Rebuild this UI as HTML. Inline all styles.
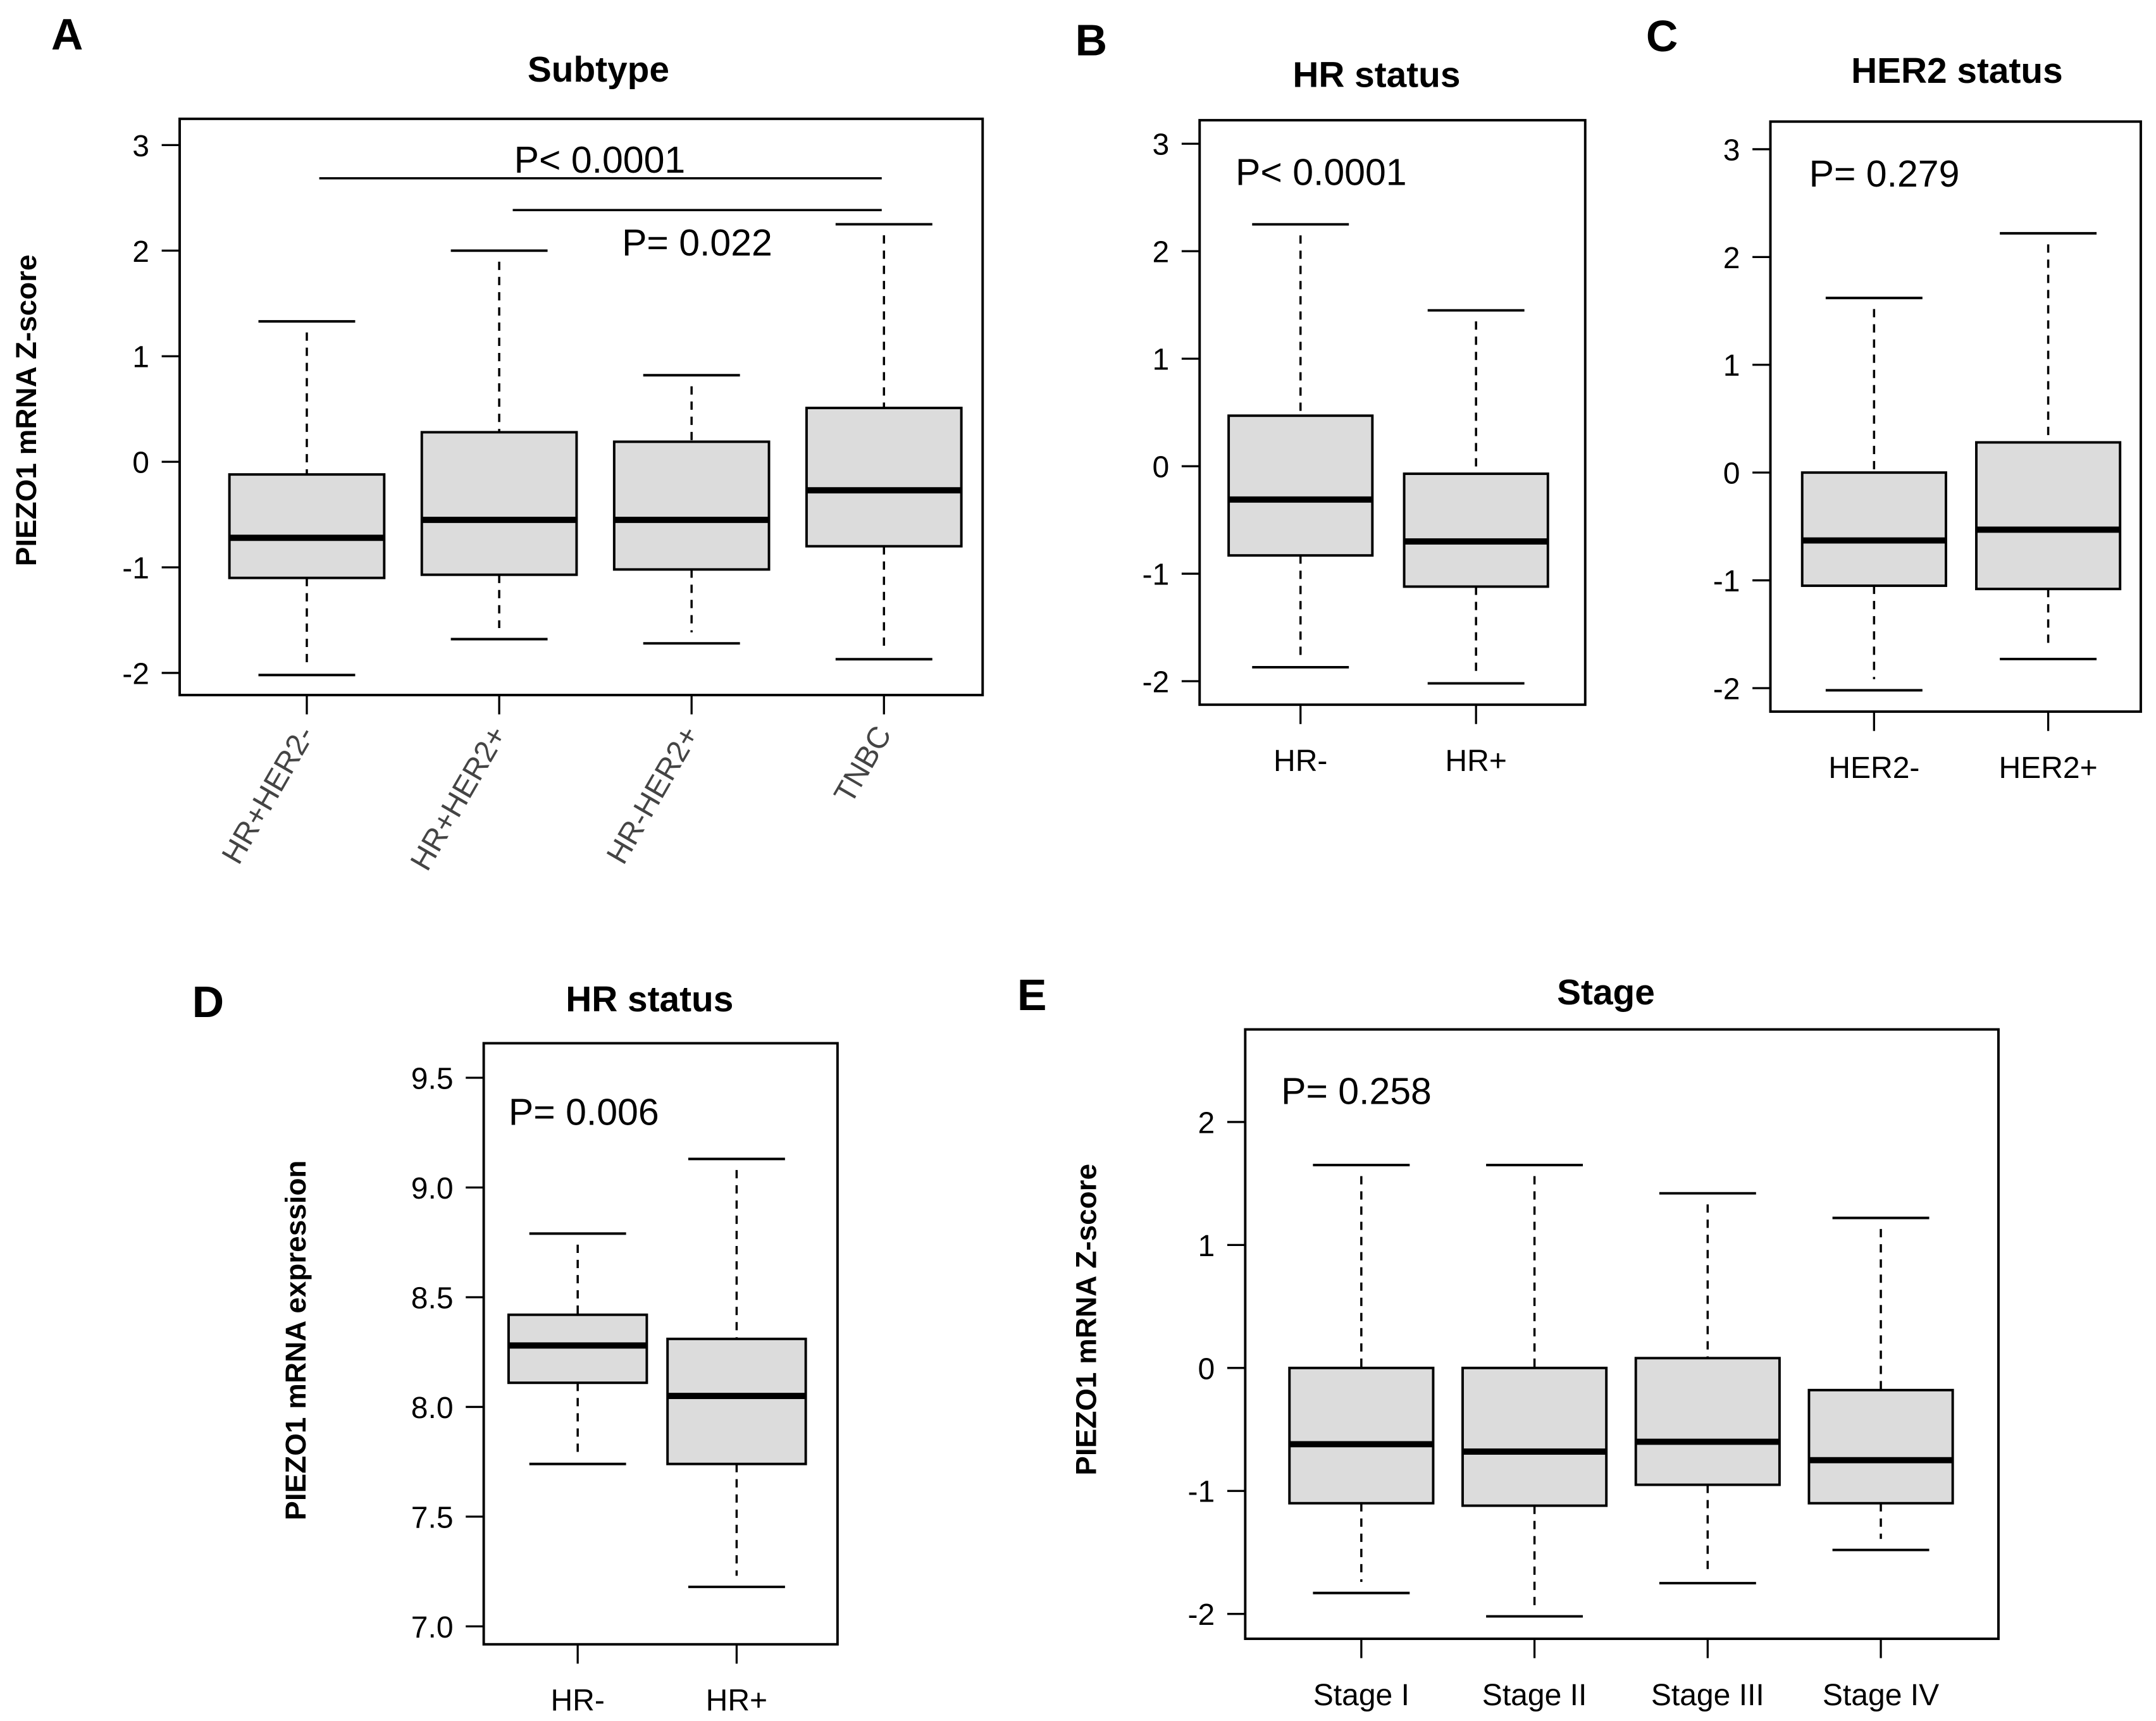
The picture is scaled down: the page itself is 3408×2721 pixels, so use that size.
<!DOCTYPE html>
<html><head><meta charset="utf-8"><style>
html,body{margin:0;padding:0;background:#fff;}
svg{display:block;font-family:"Liberation Sans",Arial,sans-serif;}
</style></head><body>
<svg id="fig" width="3408" height="2721" viewBox="0 0 1560 1245.5" preserveAspectRatio="none" xmlns="http://www.w3.org/2000/svg">
<rect width="1560" height="1245.5" fill="#fff"/>
<g font-weight="bold" font-size="32">
<text x="37" y="36">A</text>
<text x="778" y="40">B</text>
<text x="1191" y="37">C</text>
<text x="139" y="736">D</text>
<text x="736" y="731">E</text>
</g>
<g font-weight="bold" font-size="26" text-anchor="middle">
<text x="433" y="59">Subtype</text>
<text x="996" y="63">HR status</text>
<text x="1416" y="60">HER2 status</text>
<text x="470" y="732">HR status</text>
<text x="1162" y="727">Stage</text>
</g>
<g font-weight="bold" font-size="21" text-anchor="middle">
<text transform="translate(26,297) rotate(-90)">PIEZO1  mRNA  Z-score</text>
<text transform="translate(221,970) rotate(-90)">PIEZO1  mRNA  expression</text>
<text transform="translate(793,955) rotate(-90)">PIEZO1  mRNA  Z-score</text>
</g>
<g font-size="27">
<line x1="231" y1="129" x2="638" y2="129" stroke="#000" stroke-width="1.6"/>
<line x1="371" y1="152" x2="638" y2="152" stroke="#000" stroke-width="1.6"/>
<text x="372" y="125">P&lt; 0.0001</text>
<text x="450" y="185">P= 0.022</text>
<text x="894" y="134">P&lt; 0.0001</text>
<text x="1309" y="135">P= 0.279</text>
<text x="368" y="814">P= 0.006</text>
<text x="927" y="799">P= 0.258</text>
</g>
<g id="panels"></g>
</svg>
<script>
// Panel A
const aCats = ["HR+HER2-","HR+HER2+","HR-HER2+","TNBC"];
const aHi = [1.33, 2.0, 0.82, 2.25];
const aQ3 = [-0.12, 0.28, 0.19, 0.51];
const aMed = [-0.72, -0.55, -0.55, -0.27];
const aQ1 = [-1.1, -1.07, -1.02, -0.8];
const aLo = [-2.02, -1.68, -1.72, -1.87];
const aTicks = [3,2,1,0,-1,-2];
// Panel B
const bCats = ["HR-","HR+"];
const bHi = [2.25, 1.45];
const bQ3 = [0.47, -0.07];
const bMed = [-0.31, -0.7];
const bQ1 = [-0.83, -1.12];
const bLo = [-1.87, -2.02];
const bTicks = [3,2,1,0,-1,-2];
// Panel C
const cCats = ["HER2-","HER2+"];
const cHi = [1.62, 2.22];
const cQ3 = [0.0, 0.28];
const cMed = [-0.63, -0.53];
const cQ1 = [-1.05, -1.08];
const cLo = [-2.02, -1.73];
const cTicks = [3,2,1,0,-1,-2];
// Panel D
const dCats = ["HR-","HR+"];
const dHi = [8.79, 9.13];
const dQ3 = [8.42, 8.31];
const dMed = [8.28, 8.05];
const dQ1 = [8.11, 7.74];
const dLo = [7.74, 7.18];
const dTicks = ["9.5","9.0","8.5","8.0","7.5","7.0"];
// Panel E
const eCats = ["Stage I","Stage II","Stage III","Stage IV"];
const eHi = [1.65, 1.65, 1.42, 1.22];
const eQ3 = [0.0, 0.0, 0.08, -0.18];
const eMed = [-0.62, -0.68, -0.6, -0.75];
const eQ1 = [-1.1, -1.12, -0.95, -1.1];
const eLo = [-1.83, -2.02, -1.75, -1.48];
const eTicks = [2,1,0,-1,-2];

const NS="http://www.w3.org/2000/svg";
const root=document.getElementById('panels');
function mk(tag,attrs,parent){const e=document.createElementNS(NS,tag);for(const k in attrs)e.setAttribute(k,attrs[k]);(parent||root).appendChild(e);return e;}

function panel(id,cfg,cats,hi,q3,med,q1,lo,ticks){
  const g=mk('g',{});
  
  
  const v0=parseFloat(ticks[0]), v1=parseFloat(ticks[ticks.length-1]);
  const y=v=>cfg.yTop+(v0-v)*(cfg.yBot-cfg.yTop)/(v0-v1);
  const x=i=>cfg.x0+i*cfg.dx;
  const fr=mk('rect',{x:cfg.fx0,y:cfg.fy0,width:cfg.fx1-cfg.fx0,height:cfg.fy1-cfg.fy0,fill:'none',stroke:'#000','stroke-width':1.8},g);
  
  
  ticks.forEach(t=>{
    const yy=y(parseFloat(t));
    const tl=mk('line',{x1:cfg.fx0-13,x2:cfg.fx0,y1:yy,y2:yy,stroke:'#000','stroke-width':1.5},g);
    
    
    const tx=mk('text',{x:cfg.fx0-22,y:yy+8,'font-size':22,'text-anchor':'end'},g);
    tx.textContent=t;
    
    
  });
  cats.forEach((c,i)=>{
    const cx=x(i), hw=cfg.hw;
    const bg=mk('g',{},g);
    
    
    mk('line',{x1:cx,x2:cx,y1:y(hi[i])+8,y2:y(q3[i]),stroke:'#000','stroke-width':1.6,'stroke-dasharray':'6,5'},bg);
    mk('line',{x1:cx,x2:cx,y1:y(q1[i]),y2:y(lo[i])-8,stroke:'#000','stroke-width':1.6,'stroke-dasharray':'6,5'},bg);
    mk('line',{x1:cx-35,x2:cx+35,y1:y(hi[i]),y2:y(hi[i]),stroke:'#000','stroke-width':1.8},bg);
    mk('line',{x1:cx-35,x2:cx+35,y1:y(lo[i]),y2:y(lo[i]),stroke:'#000','stroke-width':1.8},bg);
    mk('rect',{x:cx-hw,y:y(q3[i]),width:2*hw,height:y(q1[i])-y(q3[i]),fill:'#dcdcdc',stroke:'#000','stroke-width':1.8},bg);
    mk('line',{x1:cx-hw,x2:cx+hw,y1:y(med[i]),y2:y(med[i]),stroke:'#000','stroke-width':4.5},bg);
    const xt=mk('line',{x1:cx,x2:cx,y1:cfg.fy1,y2:cfg.fy1+14,stroke:'#000','stroke-width':1.5},g);
    
    
    let lab;
    if(cfg.rot){
      lab=mk('text',{transform:`translate(${cx+6},${cfg.fy1+28}) rotate(-60)`,'font-size':22,'text-anchor':'end',fill:'#444'},g);
    } else {
      lab=mk('text',{x:cx,y:cfg.fy1+48,'font-size':22,'text-anchor':'middle'},g);
    }
    lab.textContent=c;
    
    
  });
}
panel('a',{fx0:130,fx1:711,fy0:86,fy1:503,yTop:105,yBot:487,x0:222,dx:139.2,hw:56,rot:true},aCats,aHi,aQ3,aMed,aQ1,aLo,aTicks);
panel('b',{fx0:868,fx1:1147,fy0:87,fy1:510,yTop:104,yBot:493,x0:941,dx:127,hw:52},bCats,bHi,bQ3,bMed,bQ1,bLo,bTicks);
panel('c',{fx0:1281,fx1:1549,fy0:88,fy1:515,yTop:108,yBot:498,x0:1356,dx:126,hw:52},cCats,cHi,cQ3,cMed,cQ1,cLo,cTicks);
panel('d',{fx0:350,fx1:606,fy0:755,fy1:1190,yTop:780,yBot:1177,x0:418,dx:115,hw:50},dCats,dHi,dQ3,dMed,dQ1,dLo,dTicks);
panel('e',{fx0:901,fx1:1446,fy0:745,fy1:1186,yTop:812,yBot:1168,x0:985,dx:125.3,hw:52},eCats,eHi,eQ3,eMed,eQ1,eLo,eTicks);
</script>
</body></html>
